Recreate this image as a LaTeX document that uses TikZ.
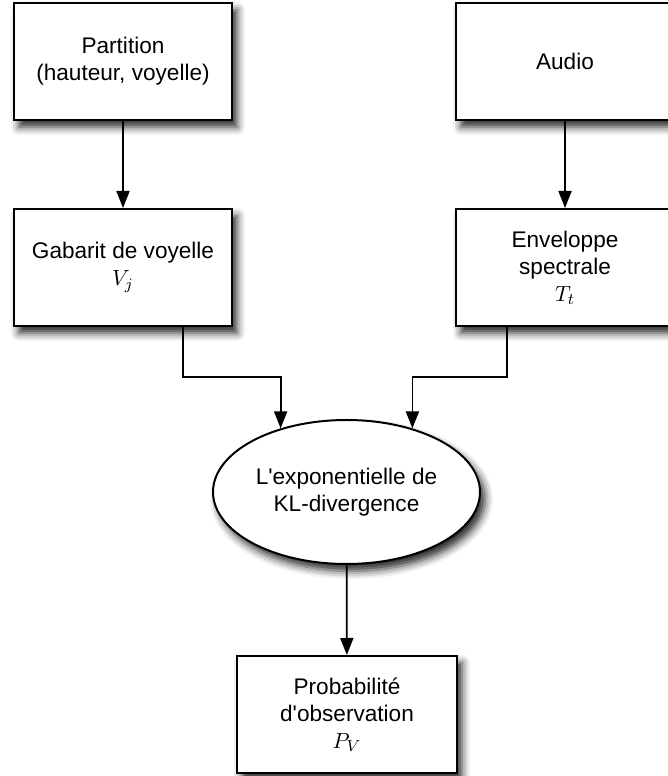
\documentclass[tikz,border=0pt]{standalone}
\usepackage{fontspec}
\setmainfont{Liberation Sans}[Ligatures=TeXOff]
\usetikzlibrary{shapes.geometric,arrows.meta,shadows,shadows.blur}
\tikzset{
	shade/.style={blur shadow={shadow xshift=2.5pt, shadow yshift=-3.5pt, shadow blur radius=4pt, shadow opacity=85}},
	stepbox/.style={draw=black, line width=1pt, fill=white, shade, minimum width=109pt, minimum height=58.5pt, inner sep=0pt, align=center, font=\fontsize{11.3}{13.5}\selectfont},
	kl/.style={ellipse, draw=black, line width=1pt, fill=white, shade, minimum width=133.5pt, minimum height=72pt, inner sep=0pt, align=center, font=\fontsize{11.3}{13.5}\selectfont},
	conn/.style={draw=black, line width=0.9pt, -{Triangle[length=8.5pt,width=6.5pt]}},
}
\begin{document}
\begin{tikzpicture}
	\useasboundingbox (0,0) rectangle (334pt,388pt);
	\node[stepbox] (part) at (61.5pt,357.25pt) {Partition\\(hauteur, voyelle)};
	\node[stepbox] (audio) at (282.5pt,357.25pt) {Audio};
	\node[stepbox] (gab) at (61.5pt,254.25pt) {Gabarit de voyelle\\$V_j$};
	\node[stepbox] (env) at (282.5pt,254.25pt) {Enveloppe\\spectrale\\$T_t$};
	\node[kl] (kld) at (173.25pt,142pt) {L'exponentielle de\\KL-divergence};
	\node[stepbox, minimum width=110pt] (prob) at (173.5pt,30.75pt) {Probabilit\'e\\d'observation\\$P_V$};
	\draw[conn] (part) -- (gab);
	\draw[conn] (audio) -- (env);
	\draw[conn] ([xshift=30pt]gab.south) -- ++(0,-25pt) -| (kld.136);
	\draw[conn] ([xshift=-29pt]env.south) -- ++(0,-25pt) -| (kld.44);
	\draw[conn] (kld) -- (prob);
\end{tikzpicture}
\end{document}
